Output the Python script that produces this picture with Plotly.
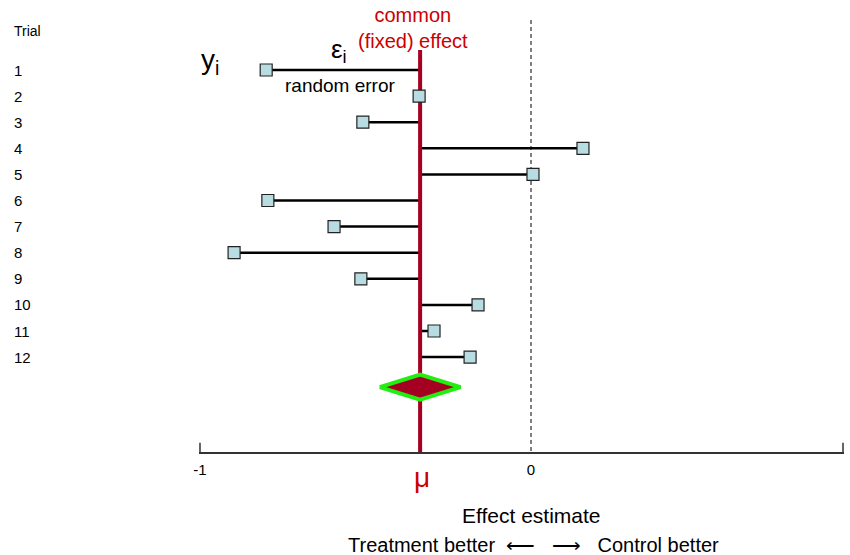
import plotly.graph_objects as go

# ---- data ----
trials = ["1", "2", "3", "4", "5", "6", "7", "8", "9", "10", "11", "12"]
effects = [-0.80, -0.338, -0.508, 0.157, 0.006, -0.795, -0.595, -0.897, -0.514, -0.160, -0.293, -0.184]
common_effect = -0.335
ci_low, ci_high = -0.457, -0.213
xticks = [-1, 0, 0.9426]
xticklabels = ["-1", "0", ""]
tick_marks = [-1, 0.9426]

FONT = "Arial, Liberation Sans, sans-serif"
RED_LINE = "#a50021"
RED_TXT = "#cc0000"

pos = list(range(1, len(trials) + 1))
diamond_y = 13.15
diamond_h = 0.48
y_top, y_bottom = -1.682, 15.636

fig = go.Figure()

# dashed line of no effect
fig.add_trace(go.Scatter(x=[0, 0], y=[-0.916, y_bottom], mode="lines",
                         line=dict(color="black", width=1, dash="4px,3px"),
                         hoverinfo="skip", showlegend=False))

# upward tick marks on the axis
tx, ty = [], []
for t in tick_marks:
    tx += [t, t, None]
    ty += [y_bottom, y_bottom - 0.35, None]
fig.add_trace(go.Scatter(x=tx, y=ty, mode="lines",
                         line=dict(color="#333333", width=1.5),
                         hoverinfo="skip", showlegend=False, cliponaxis=False))

# error segments from each estimate to the common effect
seg_x, seg_y = [], []
for e, p in zip(effects, pos):
    seg_x += [e, common_effect, None]
    seg_y += [p, p, None]
fig.add_trace(go.Scatter(x=seg_x, y=seg_y, mode="lines",
                         line=dict(color="black", width=2.5),
                         hoverinfo="skip", showlegend=False))

# common effect line
fig.add_trace(go.Scatter(x=[common_effect, common_effect], y=[0.234, y_bottom], mode="lines",
                         line=dict(color=RED_LINE, width=4),
                         hoverinfo="skip", showlegend=False))

# trial estimates
fig.add_trace(go.Scatter(x=effects, y=pos, mode="markers",
                         marker=dict(symbol="square", size=12, color="#b7dde3",
                                     line=dict(color="#222222", width=1.2)),
                         showlegend=False))

# pooled diamond
fig.add_trace(go.Scatter(
    x=[ci_low, common_effect, ci_high, common_effect, ci_low],
    y=[diamond_y, diamond_y - diamond_h, diamond_y, diamond_y + diamond_h, diamond_y],
    mode="lines", fill="toself", fillcolor=RED_LINE,
    line=dict(color="#22ee11", width=4), hoverinfo="skip", showlegend=False))

L, R, T, B = 199, 6, 0, 103
W = 850 - L - R

ann = []
# trial labels
ann.append(dict(text="Trial", xref="paper", yref="y", x=(12 - L) / W, y=-0.49,
                xanchor="left", yanchor="middle", showarrow=False,
                font=dict(size=14, color="black", family=FONT)))
for t, p in zip(trials, pos):
    ann.append(dict(text=t, xref="paper", yref="y", x=(12 - L) / W, y=p,
                    xanchor="left", yanchor="middle", showarrow=False,
                    font=dict(size=15, color="black", family=FONT)))

mid1 = (effects[0] + common_effect) / 2
ann += [
    dict(text="y<sub>i</sub>", xref="x", yref="y", x=-1, y=1, xshift=10, yshift=9,
         xanchor="center", yanchor="middle", showarrow=False,
         font=dict(size=28, color="black", family=FONT)),
    dict(text="ε<sub>i</sub>", xref="x", yref="y", x=mid1, y=1, xshift=-4, yshift=1,
         xanchor="center", yanchor="bottom", showarrow=False,
         font=dict(size=26, color="black", family=FONT)),
    dict(text="random error", xref="x", yref="y", x=mid1, y=1, xshift=-3, yshift=-3,
         xanchor="center", yanchor="top", showarrow=False,
         font=dict(size=19, color="black", family=FONT)),
    dict(text="common<br>(fixed) effect", xref="x", yref="paper", x=common_effect, y=1,
         xshift=-7, yshift=-28, xanchor="center", yanchor="middle", showarrow=False,
         font=dict(size=20, color=RED_TXT, family=FONT)),
    dict(text="μ", xref="x", yref="paper", x=common_effect, y=0, xshift=2, yshift=-25,
         xanchor="center", yanchor="middle", showarrow=False,
         font=dict(size=28, color=RED_TXT, family=FONT)),
    dict(text="Effect estimate", xref="x", yref="paper", x=0, y=0,
         yshift=-63, xanchor="center", yanchor="middle", showarrow=False,
         font=dict(size=21, color="black", family=FONT)),
    dict(text="Treatment better\u00a0\u00a0⟵\u00a0\u00a0\u00a0⟶\u00a0\u00a0\u00a0Control better",
         xref="x", yref="paper", x=0, y=0, xshift=2,
         yshift=-93, xanchor="center", yanchor="middle", showarrow=False,
         font=dict(size=20, color="black", family=FONT)),
]

fig.update_layout(
    width=850, height=555,
    margin=dict(l=L, r=R, t=T, b=B),
    paper_bgcolor="white", plot_bgcolor="white",
    annotations=ann,
    xaxis=dict(range=[-1.003, 0.9456], showgrid=False, zeroline=False,
               showline=True, linecolor="#333333", linewidth=1.5,
               ticks="", tickvals=xticks, ticktext=xticklabels, ticklabelstandoff=3,
               tickfont=dict(size=15, color="black", family=FONT)),
    yaxis=dict(range=[y_bottom, y_top], visible=False, showgrid=False, zeroline=False),
)

fig.write_html("out.html")
